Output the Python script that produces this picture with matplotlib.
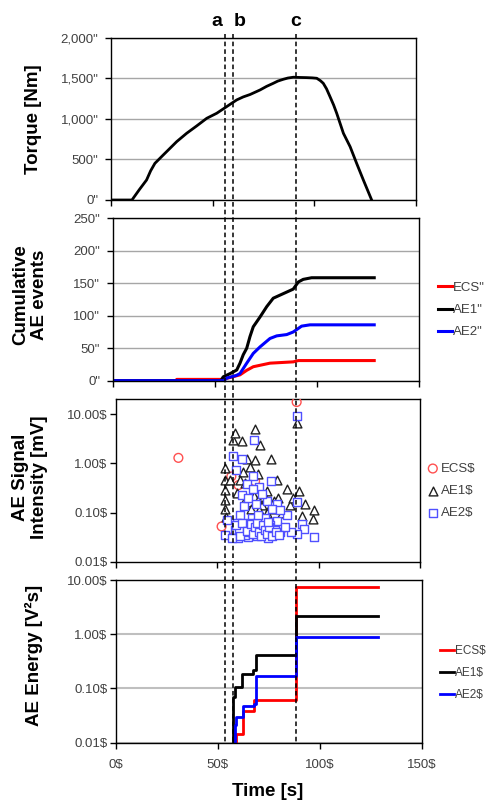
import matplotlib
matplotlib.use('Agg')
import matplotlib.pyplot as plt
import matplotlib.transforms as mtransforms
from matplotlib.lines import Line2D
from matplotlib.ticker import FixedLocator, FixedFormatter, NullLocator

plt.rcParams['font.family'] = ['Liberation Sans', 'DejaVu Sans']

# ---------------- data ----------------
torque_t = [0, 10.3, 14.0, 17.5, 19.5, 21.6, 25.7, 28.2, 32.3, 37.2, 42.1, 47.1, 52.0,
            56.9, 61.8, 65.0, 68.4, 73.3, 76.5, 79.8, 82.0, 84.8, 87.0, 89.7, 93.0,
            96.2, 99.0, 101.2, 103.0, 104.4, 106.0, 107.7, 109.5, 111.0, 114.3,
            117.6, 120.8, 124.1, 128.2]
torque = [0, 0, 130, 247, 360, 452, 555, 617, 719, 822, 912, 1007, 1069,
          1151, 1233, 1270, 1300, 1356, 1400, 1438, 1465, 1488, 1503, 1513, 1510,
          1508, 1505, 1500, 1470, 1438, 1370, 1274, 1170, 1069, 822,
          657, 452, 247, 0]

cum_ecs_t = [0, 31.0, 31.4, 54.0, 57.6, 62.4, 65.7, 68.9, 77.1, 88.5, 91.0, 128.2]
cum_ecs = [0, 0, 2, 2, 5, 9, 16, 21.5, 27, 29, 31, 31]
cum_ae1_t = [0, 53.0, 54.2, 57.6, 60.8, 62.4, 64.0, 65.7, 67.3, 68.9, 72.2, 75.5, 78.7,
             83.6, 88.5, 91.0, 93.4, 97.5, 128.2]
cum_ae1 = [0, 0, 6, 11, 16.5, 27, 40, 50, 68, 83, 98, 114, 127,
           134, 141, 152, 156, 158.5, 158.5]
cum_ae2_t = [0, 54.5, 55.9, 60.5, 62.4, 65.7, 68.9, 72.2, 77.1, 80.4, 85.3, 88.5, 92.6,
             96.7, 128.2]
cum_ae2 = [0, 0, 4, 8, 11, 27, 42, 52, 65, 69, 71, 75, 84, 86, 86]

sig_ecs_t = [30.9, 52.2, 57.0, 58.0, 60.5, 68.7, 81.8, 89.2]
sig_ecs = [1.29, 0.052, 0.54, 0.032, 0.36, 0.43, 0.046, 17.6]
sig_ae1_t = [53.9, 53.9, 53.9, 53.9, 53.9, 54.5, 56.3, 58.0, 58.8, 62.1, 64.6, 62.9,
             61.3, 68.7, 71.1, 76.4, 68.7, 79.7, 84.3, 74.4, 90.5, 93.3, 97.7, 97.1,
             91.7, 85.9, 63.7, 89.5, 66.0, 70.0, 72.5, 60.0, 65.0, 78.0, 82.0, 87.5,
             64.0, 66.0, 68.0, 70.0, 72.0, 74.0, 76.0, 78.0, 80.0, 66.5, 70.5, 74.5]
sig_ae1 = [0.80, 0.46, 0.29, 0.18, 0.12, 0.08, 0.46, 3.0, 4.2, 2.8, 1.2, 0.66,
           0.46, 5.0, 2.4, 1.24, 1.16, 0.46, 0.30, 0.28, 0.28, 0.15, 0.11, 0.075,
           0.084, 0.14, 0.40, 6.7, 0.85, 0.6, 0.2, 0.25, 0.17, 0.12, 0.1, 0.2,
           0.2, 0.16, 0.22, 0.18, 0.14, 0.19, 0.13, 0.17, 0.2, 0.12, 0.11, 0.1]
sig_ae2_t = [89.5, 68.2, 58.0, 62.1, 59.3, 67.8, 76.4, 64.6, 70.8, 67.8, 62.1, 74.7,
             79.3, 89.2, 63.2, 84.3, 73.6, 67.0, 61.3, 91.7, 93.0, 97.7, 89.2, 86.3,
             79.3, 77.7, 74.1, 71.1, 68.7, 65.4, 62.9, 66.2, 54.7, 53.9, 58.8, 60.5,
             64.0, 70.0, 72.5, 76.0, 81.0, 83.5, 60.0, 63.5, 67.0, 69.5, 72.0, 75.0,
             78.5, 57.5, 61.0, 65.5,
             59.5, 61.5, 62.5, 64.5, 66.5, 67.5, 68.5, 69.5, 70.5, 71.5, 72.5, 73.5,
             74.5, 75.5, 77.0, 79.0, 80.5, 65.0, 69.0, 72.0, 77.0, 81.0, 70.0, 75.0]
sig_ae2 = [9.1, 2.95, 1.39, 1.2, 0.74, 0.54, 0.44, 0.38, 0.33, 0.30, 0.23, 0.17,
           0.15, 0.16, 0.136, 0.089, 0.077, 0.077, 0.089, 0.059, 0.046, 0.032, 0.036, 0.041,
           0.066, 0.044, 0.038, 0.052, 0.044, 0.032, 0.038, 0.061, 0.071, 0.035, 0.044, 0.03,
           0.05, 0.035, 0.045, 0.055, 0.04, 0.05, 0.06, 0.035, 0.04, 0.033, 0.038, 0.03,
           0.045, 0.03, 0.045, 0.04,
           0.055, 0.033, 0.06, 0.042, 0.058, 0.036, 0.05, 0.062, 0.04, 0.034, 0.055, 0.045,
           0.036, 0.05, 0.033, 0.04, 0.035, 0.2, 0.15, 0.24, 0.12, 0.11, 0.09, 0.065]

en_ecs_t = [58.7, 58.7, 62.2, 67.7, 88.3, 128.4]
en_ecs = [0.01, 0.0145, 0.039, 0.06, 7.3, 7.3]
en_ae1_t = [57.6, 57.6, 58.4, 61.7, 67.4, 68.7, 88.3, 128.4]
en_ae1 = [0.01, 0.07, 0.108, 0.183, 0.219, 0.415, 2.18, 2.18]
en_ae2_t = [58.4, 58.4, 59.0, 62.2, 67.7, 68.7, 88.3, 128.4]
en_ae2 = [0.01, 0.0212, 0.0294, 0.048, 0.052, 0.17, 0.88, 0.88]

event_names = ['a', 'b', 'c']
event_times = [53.6, 57.6, 88.3]

x_ticks = [0, 50, 100, 150]
x_labels = ['0$', '50$', '100$', '150$']
torque_ticks = [0, 500, 1000, 1500, 2000]
torque_labels = ['0"', '500"', '1,000"', '1,500"', '2,000"']
cum_ticks = [0, 50, 100, 150, 200, 250]
cum_labels = ['0"', '50"', '100"', '150"', '200"', '250"']
log_ticks = [0.01, 0.1, 1, 10]
log_labels = ['0.01$', '0.10$', '1.00$', '10.00$']
leg_labels_cum = ['ECS"', 'AE1"', 'AE2"']
leg_labels_sig = ['ECS$', 'AE1$', 'AE2$']

RED, BLACK, BLUE = '#ff0000', '#000000', '#0000ff'
TICKC = '#404040'
GRIDC = '#a6a6a6'

# ---------------- layout ----------------
W, H = 488, 802
fig = plt.figure(figsize=(W / 100, H / 100), dpi=100)


def pos(l, t, r, b):
    return [l / W, 1 - b / H, (r - l) / W, (b - t) / H]


ax1 = fig.add_axes(pos(111, 37.7, 416, 200))
ax2 = fig.add_axes(pos(112.7, 218.3, 418.7, 380.7))
ax3 = fig.add_axes(pos(115.7, 399.3, 420, 561.7))
ax4 = fig.add_axes(pos(116, 580, 421.7, 742.7))

for ax in (ax1, ax2, ax3, ax4):
    ax.set_xlim(0, 150)
    ax.xaxis.set_major_locator(FixedLocator(x_ticks))
    ax.tick_params(axis='both', direction='out', length=4, width=1, color='black',
                   labelcolor=TICKC, labelsize=9.5)
    for s in ax.spines.values():
        s.set_linewidth(1.0)
        s.set_color('black')
    ax.set_axisbelow(True)
for ax in (ax1, ax2, ax3):
    ax.set_xticklabels([])
ax4.xaxis.set_major_formatter(FixedFormatter(x_labels))
ax4.tick_params(axis='x', pad=8)

# Torque
ax1.plot(torque_t, torque, color=BLACK, lw=2)
ax1.set_ylim(0, 2000)
ax1.yaxis.set_major_locator(FixedLocator(torque_ticks))
ax1.yaxis.set_major_formatter(FixedFormatter(torque_labels))
ax1.yaxis.grid(True, color=GRIDC, lw=1)
ax1.tick_params(axis='y', pad=5)

# Cumulative
ax2.plot(cum_ecs_t, cum_ecs, color=RED, lw=2.2, label=leg_labels_cum[0])
ax2.plot(cum_ae1_t, cum_ae1, color=BLACK, lw=2.2, label=leg_labels_cum[1])
ax2.plot(cum_ae2_t, cum_ae2, color=BLUE, lw=2.2, label=leg_labels_cum[2])
ax2.set_ylim(0, 250)
ax2.yaxis.set_major_locator(FixedLocator(cum_ticks))
ax2.yaxis.set_major_formatter(FixedFormatter(cum_labels))
ax2.yaxis.grid(True, color=GRIDC, lw=1)
ax2.tick_params(axis='y', pad=5)

# Signal intensity
ax3.set_yscale('log')
ax3.scatter(sig_ecs_t, sig_ecs, marker='o', s=40, facecolors='none',
            edgecolors='#ff5050', linewidths=1.0, label=leg_labels_sig[0], zorder=3)
ax3.scatter(sig_ae1_t, sig_ae1, marker='^', s=40, facecolors='white',
            edgecolors='#202020', linewidths=1.0, label=leg_labels_sig[1], zorder=4)
ax3.scatter(sig_ae2_t, sig_ae2, marker='s', s=40, facecolors='white',
            edgecolors='#5050ff', linewidths=1.0, label=leg_labels_sig[2], zorder=5)
ax3.set_ylim(0.01, 20)
ax3.yaxis.set_major_locator(FixedLocator(log_ticks))
ax3.yaxis.set_major_formatter(FixedFormatter(log_labels))
ax3.yaxis.set_minor_locator(NullLocator())
ax3.tick_params(axis='y', pad=2)

# Energy
ax4.set_yscale('log')
ax4.plot(en_ecs_t, en_ecs, color=RED, lw=2, drawstyle='steps-post', label=leg_labels_sig[0])
ax4.plot(en_ae1_t, en_ae1, color=BLACK, lw=2, drawstyle='steps-post', label=leg_labels_sig[1])
ax4.plot(en_ae2_t, en_ae2, color=BLUE, lw=2, drawstyle='steps-post', label=leg_labels_sig[2])
ax4.set_ylim(0.01, 10)
ax4.yaxis.set_major_locator(FixedLocator(log_ticks))
ax4.yaxis.set_major_formatter(FixedFormatter(log_labels))
ax4.yaxis.set_minor_locator(NullLocator())
ax4.yaxis.grid(True, color='#bfbfbf', lw=1.5)
ax4.tick_params(axis='y', pad=2)

# Legends
legkw = dict(frameon=False, borderaxespad=0, borderpad=0, labelcolor=TICKC)
ax2.legend(loc='center left',
           bbox_to_anchor=((437.7 - 112.7) / (418.7 - 112.7), (380.7 - 310) / (380.7 - 218.3)),
           handlelength=1.1, handletextpad=0.05, labelspacing=0.75, fontsize=9.5, **legkw)
ax3.legend(loc='center left',
           bbox_to_anchor=((428.5 - 115.7) / (420 - 115.7), (561.7 - 491) / (561.7 - 399.3)),
           handlelength=0.65, handletextpad=0.3, labelspacing=0.75, scatterpoints=1,
           fontsize=9.5, **legkw)
ax4.legend(loc='center left',
           bbox_to_anchor=((440 - 116) / (421.7 - 116), (742.7 - 673.3) / (742.7 - 580)),
           handlelength=1.2, handletextpad=0.05, labelspacing=0.85, fontsize=8.5, **legkw)

# Axis labels
lab = dict(fontsize=13.5, fontweight='bold', color='black')
fig.text(34 / W, 1 - 119 / H, 'Torque [Nm]', rotation=90, ha='center', va='center', **lab)
fig.text(30 / W, 1 - 295 / H, 'Cumulative\nAE events', rotation=90, ha='center',
         va='center', linespacing=1.1, **lab)
fig.text(30 / W, 1 - 477 / H, 'AE Signal\nIntensity [mV]', rotation=90, ha='center',
         va='center', linespacing=1.1, **lab)
fig.text(34 / W, 1 - 655 / H, 'AE Energy [V²s]', rotation=90, ha='center', va='center', **lab)
fig.text(267.5 / W, 1 - 791 / H, 'Time [s]', ha='center', va='center', **lab)

# Event lines across all panels
trans = mtransforms.blended_transform_factory(ax4.transData, fig.transFigure)
for name, tv in zip(event_names, event_times):
    fig.add_artist(Line2D([tv, tv], [1 - 34 / H, 1 - 742.7 / H], transform=trans,
                          color='black', lw=1.1, ls=(0, (3, 2))))
    if name == 'a':
        tr, ha = mtransforms.offset_copy(trans, fig=fig, x=-3, units='dots'), 'right'
    elif name == 'b':
        tr, ha = trans, 'left'
    else:
        tr, ha = trans, 'center'
    fig.text(tv, 1 - 21.7 / H, name, transform=tr, ha=ha, va='center',
             fontsize=14, fontweight='bold')

fig.savefig('out.png', dpi=100)
